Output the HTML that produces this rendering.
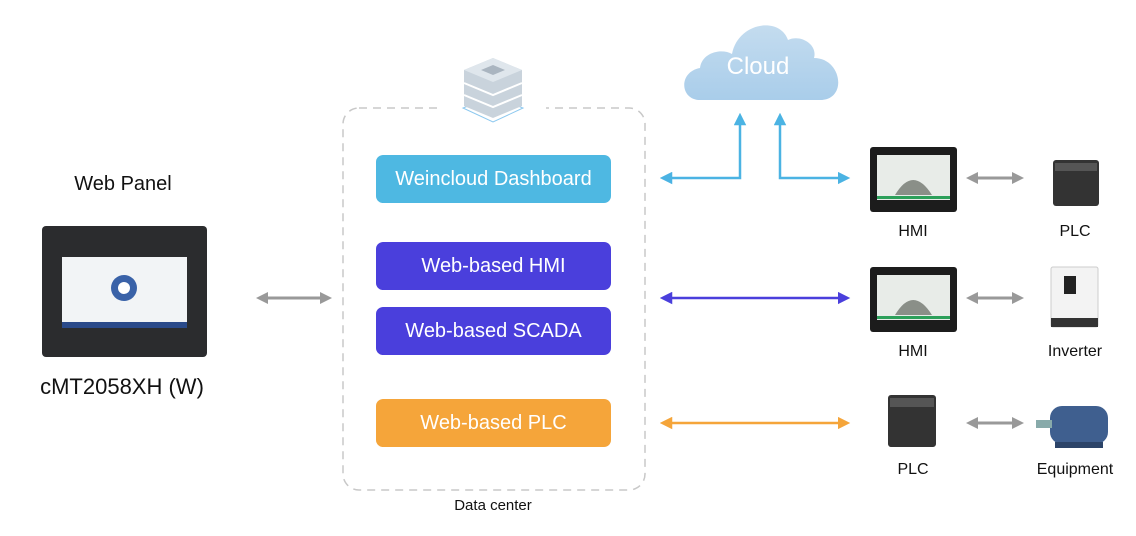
<!DOCTYPE html>
<html><head><style>
body{margin:0;width:1136px;height:536px;background:#fff;position:relative;font-family:"Liberation Sans",sans-serif;overflow:hidden}
.t{position:absolute;transform:translateX(-50%);white-space:nowrap;color:#111}
.b{position:absolute;left:376px;width:235px;height:48px;border-radius:7px;color:#fff;font-size:20px;display:flex;align-items:center;justify-content:center}
</style></head><body>
<svg width="1136" height="536" style="position:absolute;left:0;top:0">
<defs>
<marker id="g" markerWidth="4" markerHeight="4" refX="2" refY="2" orient="auto-start-reverse" markerUnits="strokeWidth"><path d="M0,0L4,2L0,4z" fill="#999"/></marker>
<marker id="bl" markerWidth="5" markerHeight="5" refX="2.5" refY="2.5" orient="auto-start-reverse" markerUnits="strokeWidth"><path d="M0,0L5,2.5L0,5z" fill="#4bb3e3"/></marker>
<marker id="pu" markerWidth="5" markerHeight="5" refX="2.5" refY="2.5" orient="auto-start-reverse" markerUnits="strokeWidth"><path d="M0,0L5,2.5L0,5z" fill="#4a3fdc"/></marker>
<marker id="or" markerWidth="5" markerHeight="5" refX="2.5" refY="2.5" orient="auto-start-reverse" markerUnits="strokeWidth"><path d="M0,0L5,2.5L0,5z" fill="#f5a53a"/></marker>
<linearGradient id="cl" x1="0" y1="0" x2="0" y2="1"><stop offset="0" stop-color="#c4dcef"/><stop offset="1" stop-color="#a9cdea"/></linearGradient>
</defs>
<rect x="343" y="108" width="302" height="382" rx="16" fill="none" stroke="#c8c8c8" stroke-width="1.5" stroke-dasharray="8,6"/>
<rect x="440" y="100" width="106" height="16" fill="#fff"/>
<!-- server -->
<g>
<path d="M463,108 L493,122 L523,108 L493,96z" fill="#fff" stroke="#8cc8ef"/>
<path d="M464,70 L464,106 L493,118 L522,106 L522,70 L493,58z" fill="#c9d3dc"/>
<path d="M464,70 L493,82 L522,70 L493,58z" fill="#dfe6ec"/>
<path d="M481,70 L493,75 L505,70 L493,65z" fill="#aab5c0"/>
<path d="M464,83 L493,95 L522,83" fill="none" stroke="#fff" stroke-width="2"/>
<path d="M464,95 L493,107 L522,95" fill="none" stroke="#fff" stroke-width="2"/>
</g>
<!-- cloud -->
<path d="M700,100 C680,100 678,72 700,68 C702,52 722,48 732,54 C738,22 780,16 788,40 C800,34 818,44 814,58 C842,58 848,100 820,100 Z" fill="url(#cl)"/>
<line x1="262" y1="298" x2="326" y2="298" stroke="#999" stroke-width="3" marker-start="url(#g)" marker-end="url(#g)"/>
<polyline points="666,178 740,178 740,119" fill="none" stroke="#4bb3e3" stroke-width="2.5" marker-start="url(#bl)" marker-end="url(#bl)"/>
<polyline points="780,119 780,178 844,178" fill="none" stroke="#4bb3e3" stroke-width="2.5" marker-start="url(#bl)" marker-end="url(#bl)"/>
<line x1="666" y1="298" x2="844" y2="298" stroke="#4a3fdc" stroke-width="2.5" marker-start="url(#pu)" marker-end="url(#pu)"/>
<line x1="666" y1="423" x2="844" y2="423" stroke="#f5a53a" stroke-width="2.5" marker-start="url(#or)" marker-end="url(#or)"/>
<line x1="972" y1="178" x2="1018" y2="178" stroke="#999" stroke-width="3" marker-start="url(#g)" marker-end="url(#g)"/>
<line x1="972" y1="298" x2="1018" y2="298" stroke="#999" stroke-width="3" marker-start="url(#g)" marker-end="url(#g)"/>
<line x1="972" y1="423" x2="1018" y2="423" stroke="#999" stroke-width="3" marker-start="url(#g)" marker-end="url(#g)"/>
<!-- web panel -->
<rect x="42" y="226" width="165" height="131" rx="4" fill="#2b2c2e"/>
<rect x="62" y="257" width="125" height="71" fill="#f2f4f6"/>
<rect x="62" y="322" width="125" height="6" fill="#2a4a8a"/>
<circle cx="124" cy="288" r="13" fill="#3a62a8"/><circle cx="124" cy="288" r="6" fill="#fff"/>
<!-- HMIs -->
<rect x="870" y="147" width="87" height="65" rx="3" fill="#1c1c1c"/><rect x="877" y="155" width="73" height="45" fill="#e8ece8"/><rect x="877" y="196" width="73" height="3" fill="#2ca05a"/><path d="M895,195 Q913,165 932,195z" fill="#8a8f88"/>
<rect x="870" y="267" width="87" height="65" rx="3" fill="#1c1c1c"/><rect x="877" y="275" width="73" height="45" fill="#e8ece8"/><rect x="877" y="316" width="73" height="3" fill="#2ca05a"/><path d="M895,315 Q913,285 932,315z" fill="#8a8f88"/>
<!-- PLCs -->
<rect x="1053" y="160" width="46" height="46" rx="3" fill="#333"/><rect x="1055" y="163" width="42" height="8" fill="#555"/>
<rect x="888" y="395" width="48" height="52" rx="3" fill="#333"/><rect x="890" y="398" width="44" height="9" fill="#555"/>
<!-- inverter -->
<rect x="1051" y="267" width="47" height="60" rx="2" fill="#f3f3f3" stroke="#ccc"/><rect x="1064" y="276" width="12" height="18" fill="#222"/><rect x="1051" y="318" width="47" height="9" fill="#333"/>
<!-- motor -->
<rect x="1050" y="406" width="58" height="38" rx="12" fill="#3f5f8f"/><rect x="1036" y="420" width="16" height="8" fill="#8aa"/><rect x="1055" y="442" width="48" height="6" fill="#2c4468"/>
</svg>
<div class="t" style="left:758px;top:53px;font-size:24px;color:#fff">Cloud</div>
<div class="b" style="top:155px;background:#4eb8e2">Weincloud Dashboard</div>
<div class="b" style="top:242px;background:#4a3fdc">Web-based HMI</div>
<div class="b" style="top:307px;background:#4a3fdc">Web-based SCADA</div>
<div class="b" style="top:399px;background:#f5a53a">Web-based PLC</div>
<div class="t" style="left:123px;top:173px;font-size:20px">Web Panel</div>
<div class="t" style="left:122px;top:374px;font-size:22px">cMT2058XH (W)</div>
<div class="t" style="left:493px;top:497px;font-size:15px">Data center</div>
<div class="t" style="left:913px;top:223px;font-size:16px">HMI</div>
<div class="t" style="left:1075px;top:223px;font-size:16px">PLC</div>
<div class="t" style="left:913px;top:343px;font-size:16px">HMI</div>
<div class="t" style="left:1075px;top:343px;font-size:16px">Inverter</div>
<div class="t" style="left:913px;top:461px;font-size:16px">PLC</div>
<div class="t" style="left:1075px;top:461px;font-size:16px">Equipment</div>
</body></html>
